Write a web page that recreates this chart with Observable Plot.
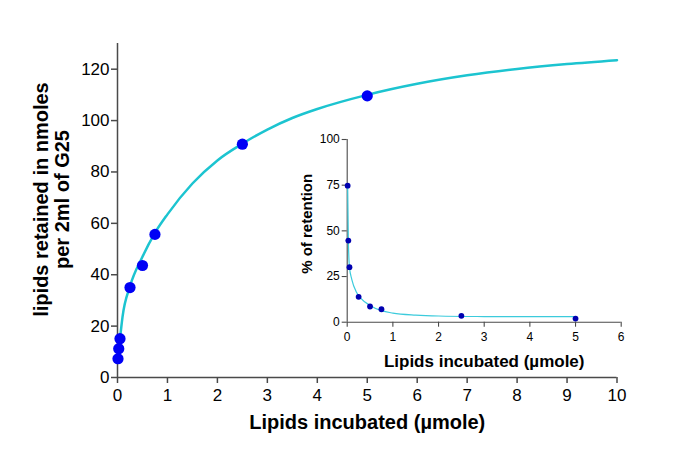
<!DOCTYPE html>
<html>
<head>
<meta charset="utf-8">
<script src="https://cdn.jsdelivr.net/npm/d3@7"></script>
<script src="https://cdn.jsdelivr.net/npm/@observablehq/plot@0.6"></script>
<style>
  body { margin: 0; background: #fff; }
  #wrap { position: relative; width: 685px; height: 464px; overflow: hidden; }
  #main { position: absolute; left: 0; top: 0; }
  #inset { position: absolute; left: 280px; top: 120px; }
</style>
</head>
<body>
<div id="wrap"><div id="main"></div><div id="inset"></div></div>
<script>
// ---- data ----
const lipidsIncubated = [0.01, 0.025, 0.05, 0.25, 0.5, 0.75, 2.5, 5];          // µmole
const lipidsRetained  = [7.3, 11.2, 15.1, 35.0, 43.6, 55.7, 90.8, 109.6];       // nmoles per 2 ml G25
const retentionPct    = [74.7, 44.7, 30.1, 13.9, 8.6, 7.1, 3.5, 2.0];           // % of retention

// fitted curve of the main panel
const fitMainX = [0.01, 0.05, 0.1, 0.25, 0.5, 0.75, 1, 1.5, 2, 2.5, 3, 3.5, 4, 5, 6, 7, 8, 9, 10];
const fitMainY = [7.5, 15, 23.5, 35.5, 47, 56.3, 63.5, 75.5, 84.5, 91, 96.5, 101, 104.5, 110, 114.3, 117.6, 120.1, 122, 123.5];

// fitted curve of the inset
const fitInsetX = [0.01, 0.025, 0.05, 0.1, 0.2, 0.3, 0.5, 0.75, 1, 1.5, 2, 3, 4, 5];
const fitInsetY = [75, 45, 30, 23.5, 16.5, 13, 9.2, 6.3, 5.0, 3.9, 3.4, 3.1, 3.0, 3.0];

// tick labels
const mainXTicks  = [0, 1, 2, 3, 4, 5, 6, 7, 8, 9, 10];
const mainYTicks  = [0, 20, 40, 60, 80, 100, 120];
const insetXTicks = [0, 1, 2, 3, 4, 5, 6];
const insetYTicks = [0, 25, 50, 75, 100];

const xTitle = "Lipids incubated (µmole)";
const yTitleMain = "lipids retained in nmoles\nper 2ml of G25";
const yTitleInset = "% of retention";

// ---- build tables ----
const points = lipidsIncubated.map((x, i) => ({x, retained: lipidsRetained[i], pct: retentionPct[i]}));
const fitMain = fitMainX.map((x, i) => ({x, y: fitMainY[i]}));
const fitInset = fitInsetX.map((x, i) => ({x, y: fitInsetY[i]}));

const FONT = "'Liberation Sans', Arial, Helvetica, sans-serif";
const AXIS = "#4a4a4a";
const titleOpts = {text: d => d, fontWeight: "bold", fill: "#000", textAnchor: "middle", lineAnchor: "middle"};

const main = Plot.plot({
  width: 685, height: 464,
  marginLeft: 117, marginRight: 68.5, marginTop: 43, marginBottom: 87,
  style: {fontFamily: FONT, fontSize: "17px", color: "#000", background: "transparent", overflow: "visible"},
  x: {domain: [0, 10], axis: null},
  y: {domain: [0, 130], axis: null},
  marks: [
    Plot.ruleY([0], {stroke: AXIS, strokeWidth: 1.5}),
    Plot.ruleX([0], {stroke: AXIS, strokeWidth: 1.5}),
    Plot.axisX(mainXTicks, {label: null, tickSize: 6, tickPadding: 5, stroke: AXIS, strokeWidth: 1.5, fill: "#000", fontSize: 17}),
    Plot.axisY(mainYTicks, {label: null, tickSize: 6, tickPadding: 2, stroke: AXIS, strokeWidth: 1.5, fill: "#000", fontSize: 17}),
    Plot.line(fitMain, {x: "x", y: "y", curve: "monotone-x", stroke: "#1cc4d0", strokeWidth: 2.5}),
    Plot.dot(points, {x: "x", y: "retained", r: 5.6, fill: "#0000f5", stroke: "none"}),
    Plot.text([xTitle], {...titleOpts, frameAnchor: "bottom", dy: 44.6, fontSize: 20}),
    Plot.text([yTitleMain], {...titleOpts, frameAnchor: "left", rotate: -90, dx: -66, dy: -11, fontSize: 20, lineHeight: 1.05})
  ]
});
document.getElementById("main").appendChild(main);

const inset = Plot.plot({
  width: 360, height: 270,
  marginLeft: 66.7, marginRight: 19.3, marginTop: 19, marginBottom: 68.3,
  style: {fontFamily: FONT, fontSize: "12px", color: "#000", background: "transparent", overflow: "visible"},
  x: {domain: [0, 6], axis: null},
  y: {domain: [0, 100], axis: null},
  marks: [
    Plot.ruleY([0], {stroke: AXIS, strokeWidth: 1.1}),
    Plot.ruleX([0], {stroke: AXIS, strokeWidth: 1.1}),
    Plot.axisX(insetXTicks, {label: null, tickSize: 5, tickPadding: 5, stroke: AXIS, strokeWidth: 1.1, fill: "#000", fontSize: 12}),
    Plot.axisY(insetYTicks, {label: null, tickSize: 5, tickPadding: 2.4, stroke: AXIS, strokeWidth: 1.1, fill: "#000", fontSize: 12}),
    Plot.line(fitInset, {x: "x", y: "y", curve: "monotone-x", stroke: "#3ccbdc", strokeWidth: 1.2}),
    Plot.dot(points, {x: "x", y: "pct", r: 2.9, fill: "#0000b0", stroke: "none"}),
    Plot.text([xTitle], {...titleOpts, frameAnchor: "bottom", dy: 39.6, fontSize: 17}),
    Plot.text([yTitleInset], {...titleOpts, frameAnchor: "left", rotate: -90, dx: -40, dy: -7, fontSize: 15})
  ]
});
document.getElementById("inset").appendChild(inset);
</script>
</body>
</html>
